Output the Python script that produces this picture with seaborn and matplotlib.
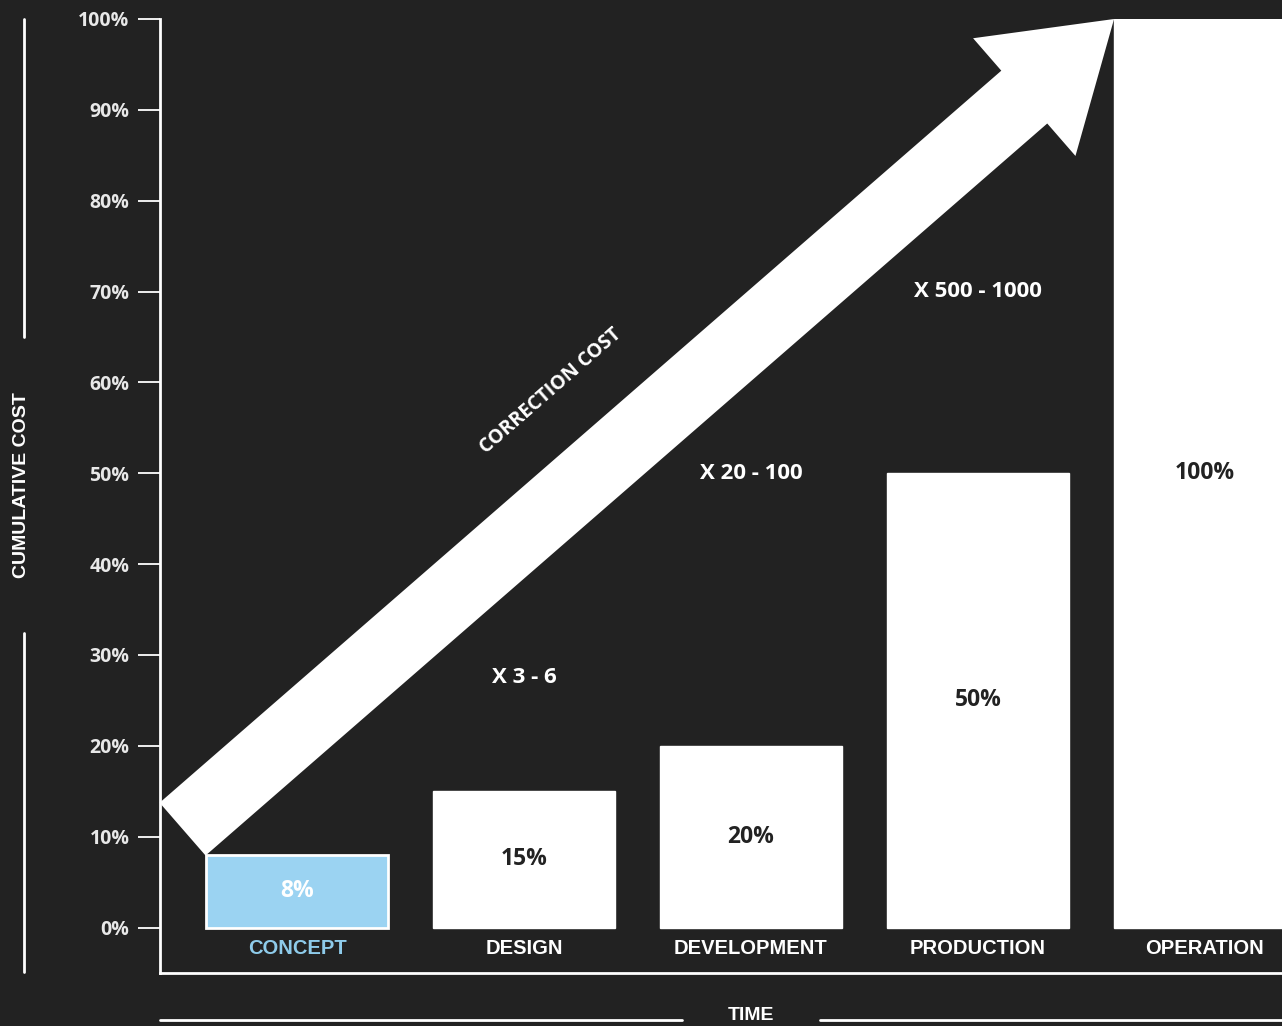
import numpy as np
import matplotlib.pyplot as plt
import seaborn as sns
from matplotlib.lines import Line2D
from matplotlib.patches import Polygon

# data
stages = ["CONCEPT", "DESIGN", "DEVELOPMENT", "PRODUCTION", "OPERATION"]
costs = [8, 15, 20, 50, 100]
multipliers = ["X 3 - 6", "X 20 - 100", "X 500 - 1000"]
mult_stage = [1, 2, 3]
mult_level = [27.5, 50, 70]
yticks = list(range(0, 101, 10))

bg = "#222222"
blue = "#9bd3f2"
blue_text = "#8ecbea"
bar_colors = [blue, "white", "white", "white", "white"]

sns.set_theme(style="dark", rc={"figure.facecolor": bg, "axes.facecolor": bg,
                                "savefig.facecolor": bg})
plt.rcParams["font.family"] = ["Liberation Sans", "DejaVu Sans"]

fig = plt.figure(figsize=(12.82, 10.26), dpi=100)
ax = fig.add_axes([160 / 1282, 1 - 973 / 1026, 1 - 160 / 1282, (973 - 19) / 1026])

sns.barplot(x=stages, y=costs, hue=stages, palette=bar_colors, width=0.8,
            saturation=1, legend=False, ax=ax, zorder=3)
ax.patches[0].set_edgecolor("white")
ax.patches[0].set_linewidth(2)

ax.set_xlim(-0.604, 4.34)
ax.set_ylim(-5, 100)
ax.set_yticks(yticks)
ax.set_yticklabels([f"{v}%" for v in yticks], family="Open Sans",
                   fontweight="bold", fontsize=14, color="#e8e8e8")
ax.tick_params(axis="y", direction="out", length=16, width=1.3, pad=6,
               color="white", left=True)
ax.tick_params(axis="x", length=0, labelbottom=False)
ax.grid(False)
for s in ["top", "right"]:
    ax.spines[s].set_visible(False)
for s in ["left", "bottom"]:
    ax.spines[s].set_color("white")
    ax.spines[s].set_linewidth(2)
ax.set_xlabel("")
ax.set_ylabel("")

# category names under bars and values inside
for i, (name, v) in enumerate(zip(stages, costs)):
    ax.text(i, -2.3, name, ha="center", va="center", fontsize=14.5,
            fontweight="bold", color=blue_text if i == 0 else "white")
    ax.text(i, v / 2, f"{v}%", ha="center", va="center", fontsize=16.5,
            family="Open Sans", fontweight="bold",
            color="white" if i == 0 else bg, zorder=4)

for lab, xs, ys in zip(multipliers, mult_stage, mult_level):
    ax.text(xs, ys, lab, ha="center", va="center", fontsize=16,
            family="Open Sans", fontweight="bold", color="white")

# correction cost arrow, from concept bar corner to operation bar corner
first, last = ax.patches[0], ax.patches[len(stages) - 1]
p0 = ax.transData.transform((first.get_x(), first.get_height()))
p1 = ax.transData.transform((last.get_x(), last.get_height()))
half, head_half, head_len = 35, 78, 119
d0 = (p1 - p0) / np.linalg.norm(p1 - p0)
mid = p0 - half * np.array([d0[1], -d0[0]])
L = np.linalg.norm(p1 - mid)
d = (p1 - mid) / L
nr = np.array([d[1], -d[0]])
base = mid + (L - head_len) * d
pts = np.array([mid + half * nr, base + half * nr, base + head_half * nr, p1,
                base - head_half * nr, base - half * nr, mid - half * nr])
ax.add_patch(Polygon(ax.transData.inverted().transform(pts), closed=True,
                     fc="white", ec="none", zorder=5, clip_on=False))
angle = np.degrees(np.arctan2(d[1], d[0]))
tx, ty = ax.transData.inverted().transform(mid + 566 * d - 89 * nr)
ax.text(tx, ty, "CORRECTION COST", rotation=angle, rotation_mode="anchor",
        ha="center", va="center", fontsize=14, family="Open Sans",
        fontweight="bold", color="white")

# outer axis titles with lines
fig.text(22 / 1282, 1 - 485 / 1026, "CUMULATIVE COST", rotation=90,
         ha="center", va="center", fontsize=14, fontweight="bold", color="white")
fig.text(751 / 1282, 1 - 1016 / 1026, "TIME", ha="center", va="center",
         fontsize=14, fontweight="bold", color="white")
for xs, ys in [([24, 24], [19, 337]), ([24, 24], [633, 972]),
               ([160, 682], [1020, 1020]), ([820, 1282], [1020, 1020])]:
    fig.add_artist(Line2D([x / 1282 for x in xs], [1 - y / 1026 for y in ys],
                          color="white", lw=2))

fig.savefig("out.png", dpi=100)
